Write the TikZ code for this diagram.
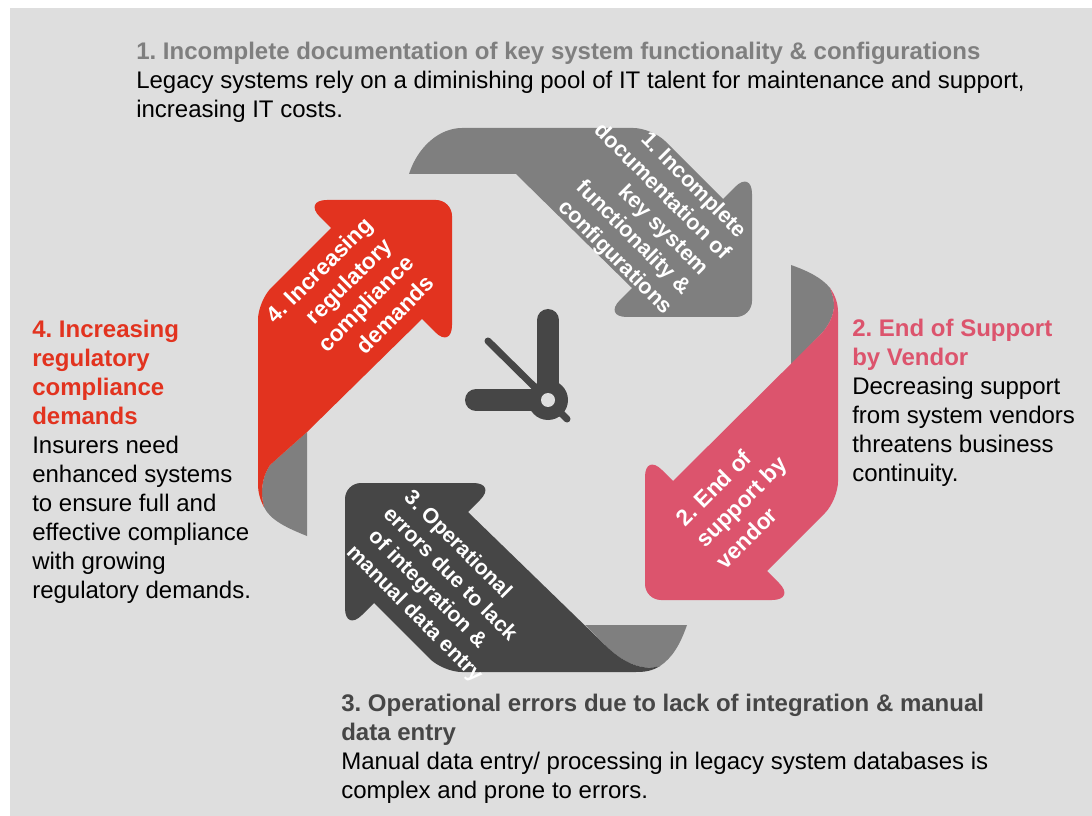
\documentclass[tikz,border=0pt]{standalone}
\usepackage{fontspec}
\setmainfont{Liberation Sans}
\definecolor{bgc}{HTML}{DEDEDE}
\definecolor{grayc}{HTML}{7F7F7F}
\definecolor{pinkc}{HTML}{DC546D}
\definecolor{darkc}{HTML}{464646}
\definecolor{redc}{HTML}{E2331F}
\newcommand{\ls}[1]{\hspace*{#1pt}}
\tikzset{
  body/.style={anchor=north west,align=left,inner sep=0pt,text=black,font=\frenchspacing\fontsize{18}{21.75}\selectfont},
  inarrow/.style={align=center,inner sep=0pt,text=white},
  inone/.style={inarrow,font=\frenchspacing\fontsize{16.3}{19.9}\selectfont\bfseries},
  intwo/.style={inarrow,font=\frenchspacing\fontsize{17}{22}\selectfont\bfseries},
  inthree/.style={inarrow,font=\frenchspacing\fontsize{16}{19.8}\selectfont\bfseries},
  infour/.style={inarrow,font=\frenchspacing\fontsize{17}{21.2}\selectfont\bfseries}
}
\begin{document}
\begin{tikzpicture}[x=0.75pt,y=-0.75pt]
\useasboundingbox (0,0) rectangle (1092,816);
\fill[white] (0,0) rectangle (1092,816);
\fill[bgc] (10,8) rectangle (1092,816);
% arrow 1
\fill[grayc] (409,174) .. controls (418,146) and (440,128) .. (462,128)
  [rounded corners=14] -- (652,128) [sharp corners] -- (723,199)
  [rounded corners=18] -- (752,170) [rounded corners=12] -- (752,317)
  [rounded corners=18] -- (603,317) [sharp corners] -- (632,288) -- (516,174) -- cycle;
% arrow 2 fold and body
\fill[grayc] (791,265) .. controls (808,271) and (822,278) .. (830,288) .. controls (832,293) and (834,299) .. (834,305)
  .. controls (834,316) and (828,327) .. (820,335) -- (791,365) -- cycle;
\fill[pinkc] (830,288) .. controls (835,295) and (838,303) .. (838,312)
  [rounded corners=14] -- (838,500) [sharp corners] -- (767,571)
  [rounded corners=18] -- (796,600) [rounded corners=12] -- (645,600)
  [rounded corners=18] -- (645,453) [sharp corners] -- (673,481) -- (820,335)
  .. controls (828,327) and (834,316) .. (834,305) .. controls (834,299) and (832,293) .. (830,288) -- cycle;
% arrow 3 fold and body
\fill[grayc] (585,625) -- (687,625) .. controls (680,645) and (672,658) .. (660,666)
  .. controls (640,672) and (620,660) .. (605,645) -- cycle;
\fill[darkc] (660,666) .. controls (652,671) and (645,672) .. (636,672)
  [rounded corners=14] -- (443,672) [sharp corners] -- (374,603)
  [rounded corners=18] -- (345,632) [rounded corners=12] -- (345,483)
  [rounded corners=18] -- (497,483) [sharp corners] -- (468,512) -- (605,645)
  .. controls (620,660) and (640,672) .. (660,666) -- cycle;
% arrow 4 fold and body
\fill[grayc] (307,432) -- (307,536) .. controls (287,528) and (270,520) .. (264,507)
  .. controls (260,492) and (262,477) .. (270,465) -- cycle;
\fill[redc] (264,507) .. controls (260,500) and (258,492) .. (258,484)
  [rounded corners=14] -- (258,301) [sharp corners] -- (331,228)
  [rounded corners=18] -- (303,200) [rounded corners=12] -- (452,200)
  [rounded corners=18] -- (452,349) [sharp corners] -- (422,319) -- (307,432) -- (270,465)
  .. controls (262,477) and (260,492) .. (264,507) -- cycle;
% clock
\fill[darkc] (548,400) circle (20);
\draw[darkc,line width=16.5pt,line cap=round] (548,320) -- (548,400);
\draw[darkc,line width=16.5pt,line cap=round] (476,400) -- (548,400);
\draw[darkc,line width=5.25pt,line cap=round] (488,341) -- (567,419);
\fill[bgc] (548,400) circle (7);
% arrow labels
\node[inone,rotate=-45] (a1) at (653,221) {\ls{5.5}1. Incomplete\\\ls{-21}documentation of\\\ls{21}key system\\\ls{-3}functionality \&\\\ls{-1.5}configurations};
\node[intwo,rotate=45] (a2) at (734,509) {\ls{1}2. End of\\\ls{16}support by\\\ls{-17}vendor};
\node[inthree,rotate=-45] (a3) at (437,581) {\ls{-16.5}3. Operational\\\ls{6.75}errors due to lack\\\ls{-1.5}of integration \&\\\ls{11}manual data entry};
\node[infour,rotate=45] (a4) at (357,292) {\ls{-16.5}4. Increasing\\\ls{3}regulatory\\\ls{-3}compliance\\\ls{16.5}demands};
% descriptions
\node[body] (t1) at (136,42) {\textcolor{grayc}{\textbf{1. Incomplete documentation of key system functionality \& configurations}}\\Legacy systems rely on a diminishing pool of IT talent for maintenance and support,\\increasing IT costs.};
\node[body] (t2) at (852,319) {\textcolor{pinkc}{\textbf{2. End of Support}}\\\textcolor{pinkc}{\textbf{by Vendor}}\\Decreasing support\\from system vendors\\threatens business\\continuity.};
\node[body] (t3) at (341,694) {\textcolor{darkc}{\textbf{3. Operational errors due to lack of integration \& manual}}\\\textcolor{darkc}{\textbf{data entry}}\\Manual data entry/ processing in legacy system databases is\\complex and prone to errors.};
\node[body] (t4) at (32,320) {\textcolor{redc}{\textbf{4. Increasing}}\\\textcolor{redc}{\textbf{regulatory}}\\\textcolor{redc}{\textbf{compliance}}\\\textcolor{redc}{\textbf{demands}}\\Insurers need\\enhanced systems\\to ensure full and\\effective compliance\\with growing\\regulatory demands.};
\end{tikzpicture}
\end{document}
